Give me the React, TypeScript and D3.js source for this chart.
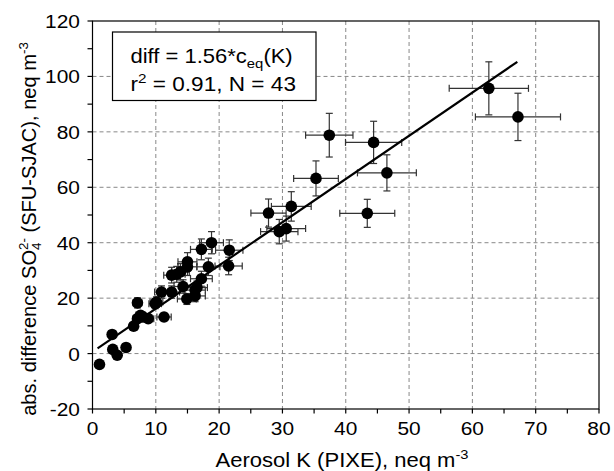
import React from 'react';
import * as d3 from 'd3';

const aerosolK = [1.1, 3.1, 3.2, 3.9, 5.3, 6.5, 7.1, 7.1, 7.6, 8.0, 8.8, 10.1, 9.9, 11.3, 10.9, 12.5, 12.5, 13.3, 13.9, 14.3, 15.0, 15.0, 14.9, 16.2, 16.2, 16.5, 17.2, 18.3, 17.2, 18.8, 21.6, 21.5, 27.8, 29.5, 30.6, 31.4, 35.3, 37.4, 44.4, 46.5, 43.4, 62.6, 67.2];
const diffSO4 = [-3.9, 6.9, 1.5, -0.6, 2.2, 9.9, 18.3, 12.6, 13.8, 13.2, 12.6, 18.6, 18.0, 13.2, 22.2, 22.2, 28.3, 28.6, 29.5, 24.2, 33.1, 31.3, 19.7, 22.9, 20.8, 23.8, 27.0, 31.3, 37.6, 40.0, 37.3, 31.6, 50.7, 44.0, 45.1, 53.1, 63.2, 78.8, 76.2, 65.2, 50.6, 95.7, 85.4];
const xTicks = [0, 10, 20, 30, 40, 50, 60, 70, 80];
const xMinorTicks = [5, 15, 25, 35, 45, 55, 65, 75];
const yTicks = [-20, 0, 20, 40, 60, 80, 100, 120];
const yMinorTicks = [-10, 10, 30, 50, 70, 90, 110];
const fitSlope = 1.56;
const fitIntercept = 0.6;
const fitRange = [0.8, 67.1];
const relErr = 0.1;

const FONT = '"Liberation Sans", Arial, Helvetica, sans-serif';
const SX = 1.1;

export default function App() {
  const W = 614, H = 471;
  const x = d3.scaleLinear().domain([0, 80]).range([92.5, 599]);
  const y = d3.scaleLinear().domain([-20, 120]).range([409, 21]);
  const [x0, x1] = x.range();
  const [y0, y1] = y.range();
  const pts = aerosolK.map((k, i) => ({ k, d: diffSO4[i] }));
  const fitLine = d3.line<number>().x(v => x(v)).y(v => y(fitSlope * v + fitIntercept));
  const cap = 3.5;

  return (
    <svg width={W} height={H} style={{ position: 'absolute', left: 0, top: 0, background: '#fff' }} fontFamily={FONT}>
      <rect x={0} y={0} width={W} height={H} fill="#fff" />
      {/* grid */}
      {xTicks.filter(t => t > 0 && t < 80).map(t => (
        <line key={'gx' + t} x1={x(t)} x2={x(t)} y1={y1} y2={y0} stroke="#888" strokeWidth={1} strokeDasharray="4,3" />
      ))}
      {yTicks.filter(t => t > -20 && t < 120).map(t => (
        <line key={'gy' + t} x1={x0} x2={x1} y1={y(t)} y2={y(t)} stroke="#888" strokeWidth={1} strokeDasharray="4,3" />
      ))}
      {/* error bars */}
      {pts.map((p, i) => {
        const ex = Math.abs(p.k) * relErr;
        const ey = Math.abs(p.d) * relErr;
        return (
          <g key={'e' + i} stroke="#333" strokeWidth={1.2}>
            <line x1={x(p.k - ex)} x2={x(p.k + ex)} y1={y(p.d)} y2={y(p.d)} />
            <line x1={x(p.k - ex)} x2={x(p.k - ex)} y1={y(p.d) - cap} y2={y(p.d) + cap} />
            <line x1={x(p.k + ex)} x2={x(p.k + ex)} y1={y(p.d) - cap} y2={y(p.d) + cap} />
            <line x1={x(p.k)} x2={x(p.k)} y1={y(p.d - ey)} y2={y(p.d + ey)} />
            <line x1={x(p.k) - cap} x2={x(p.k) + cap} y1={y(p.d - ey)} y2={y(p.d - ey)} />
            <line x1={x(p.k) - cap} x2={x(p.k) + cap} y1={y(p.d + ey)} y2={y(p.d + ey)} />
          </g>
        );
      })}
      {/* points */}
      {pts.map((p, i) => (
        <circle key={'p' + i} cx={x(p.k)} cy={y(p.d)} r={5.8} fill="#000" />
      ))}
      {/* fit */}
      <path d={fitLine(fitRange) || ''} fill="none" stroke="#000" strokeWidth={2.2} />
      {/* frame */}
      <rect x={x0} y={y1} width={x1 - x0} height={y0 - y1} fill="none" stroke="#000" strokeWidth={1.2} />
      {/* ticks */}
      {xTicks.concat(xMinorTicks).map(t => (
        <line key={'tx' + t} x1={x(t)} x2={x(t)} y1={y0} y2={y0 + 4.5} stroke="#000" strokeWidth={1.2} />
      ))}
      {yTicks.concat(yMinorTicks).map(t => (
        <line key={'ty' + t} x1={x0 - 5} x2={x0} y1={y(t)} y2={y(t)} stroke="#000" strokeWidth={1.2} />
      ))}
      {xTicks.map(t => (
        <text key={'lx' + t} transform={`translate(${x(t)},435) scale(${SX},1)`} textAnchor="middle" fontSize={19} fill="#000">{t}</text>
      ))}
      {yTicks.map(t => (
        <text key={'ly' + t} transform={`translate(80,${y(t) + 7}) scale(${SX},1)`} textAnchor="end" fontSize={19} fill="#000">{t}</text>
      ))}
      {/* axis titles */}
      <text transform={`translate(342,466.5) scale(1.13,1)`} textAnchor="middle" fontSize={19.5} fill="#000">
        Aerosol K (PIXE), neq m<tspan fontSize={13} dy={-8}>-3</tspan>
      </text>
      <text transform={`translate(36,229) rotate(-90) scale(1.03,1)`} textAnchor="middle" fontSize={19.5} fill="#000">
        abs. difference SO<tspan fontSize={13} dy={5}>4</tspan><tspan fontSize={13} dx={-7.2} dy={-13}>2-</tspan><tspan dy={8}> (SFU-SJAC), neq m</tspan><tspan fontSize={13} dy={-8}>-3</tspan>
      </text>
      {/* legend box */}
      <rect x={112.5} y={32} width={203.5} height={68.5} fill="#fff" stroke="#000" strokeWidth={1.2} />
      <text transform={`translate(130.5,63.3) scale(${SX},1)`} fontSize={20} fill="#000">
        diff = 1.56*c<tspan fontSize={13.5} dy={5}>eq</tspan><tspan dy={-5}>(K)</tspan>
      </text>
      <text transform={`translate(130.5,90.7) scale(1.13,1)`} fontSize={20} fill="#000">
        r<tspan fontSize={13.5} dy={-8}>2</tspan><tspan dy={8}> = 0.91, N = 43</tspan>
      </text>
    </svg>
  );
}
